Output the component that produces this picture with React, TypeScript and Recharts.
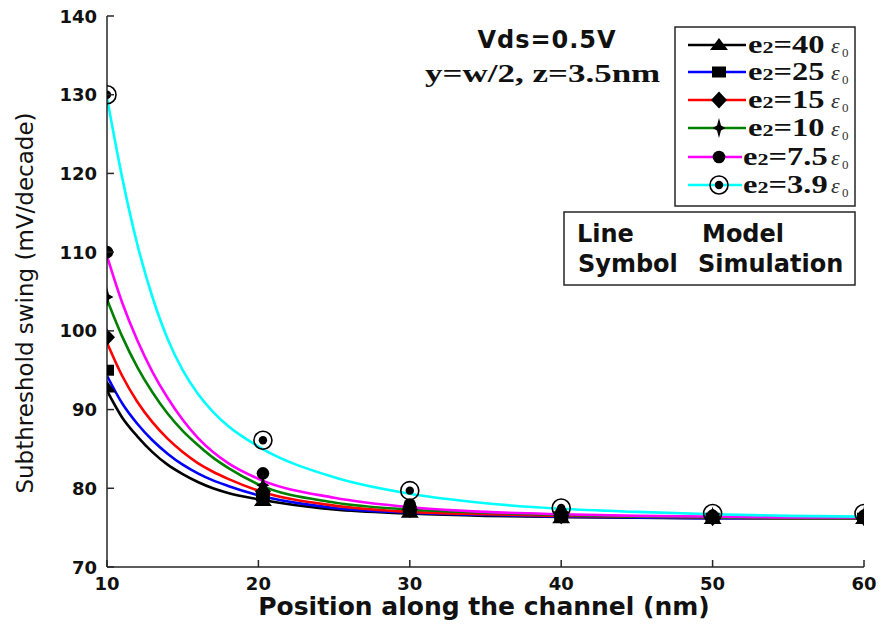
import React from 'react'
import { ComposedChart, Line, Scatter, XAxis, YAxis } from 'recharts'

// model curves (lines), sampled along the channel (nm)
const positions = [10, 11, 12, 13, 14, 15, 16, 17, 18, 20, 25, 30, 35, 40, 45, 50, 55, 60]
const model40 = [92.4, 89.0, 86.6, 84.6, 83.0, 81.8, 80.8, 80.0, 79.4, 78.6, 77.3, 76.8, 76.5, 76.35, 76.25, 76.2, 76.2, 76.2]
const model25 = [94.3, 90.8, 88.2, 86.1, 84.4, 83.0, 81.9, 81.0, 80.3, 79.1, 77.5, 76.9, 76.6, 76.4, 76.3, 76.2, 76.2, 76.2]
const model15 = [98.5, 94.3, 91.0, 88.4, 86.3, 84.6, 83.2, 82.1, 81.2, 79.7, 77.8, 77.0, 76.7, 76.5, 76.4, 76.3, 76.2, 76.2]
const model10 = [104.0, 99.3, 95.4, 92.2, 89.5, 87.3, 85.5, 83.9, 82.6, 80.5, 78.2, 77.3, 76.9, 76.6, 76.4, 76.3, 76.2, 76.2]
const model75 = [109.5, 103.6, 98.8, 94.8, 91.5, 88.7, 86.4, 84.6, 83.2, 81.2, 78.8, 77.6, 77.0, 76.7, 76.5, 76.4, 76.3, 76.3]
const model39 = [129.6, 119.5, 111.0, 104.3, 99.0, 95.0, 92.0, 89.7, 87.9, 85.3, 81.4, 79.3, 78.1, 77.4, 77.0, 76.7, 76.5, 76.4]

// simulation points (symbols)
const simPositions = [10, 20.3, 30, 40, 50, 60]
const sim40 = [92.8, 78.4, 76.9, 76.2, 76.1, 76.1]
const sim25 = [95.0, 79.0, 77.1, 76.4, 76.2, 76.2]
const sim15 = [99.2, 79.6, 77.3, 76.5, 76.3, 76.3]
const sim10 = [104.3, 80.4, 77.5, 76.7, 76.4, 76.4]
const sim75 = [110.0, 81.9, 77.9, 76.9, 76.5, 76.5]
const sim39 = [130.0, 86.1, 79.7, 77.5, 76.8, 76.8]

const xTicks = [10, 20, 30, 40, 50, 60]
const yTicks = [70, 80, 90, 100, 110, 120, 130, 140]

type Kind = 'triangle' | 'square' | 'diamond' | 'star' | 'dot' | 'ring'

const series: { key: string; label: string; color: string; model: number[]; sim: number[]; kind: Kind }[] = [
  { key: 'k40', label: '40', color: '#000000', model: model40, sim: sim40, kind: 'triangle' },
  { key: 'k25', label: '25', color: '#0000ff', model: model25, sim: sim25, kind: 'square' },
  { key: 'k15', label: '15', color: '#ff0000', model: model15, sim: sim15, kind: 'diamond' },
  { key: 'k10', label: '10', color: '#008000', model: model10, sim: sim10, kind: 'star' },
  { key: 'k75', label: '7.5', color: '#ff00ff', model: model75, sim: sim75, kind: 'dot' },
  { key: 'k39', label: '3.9', color: '#00ffff', model: model39, sim: sim39, kind: 'ring' },
]

const modelRows = positions.map((x, i) => {
  const row: Record<string, number> = { x }
  for (const s of series) row[s.key] = s.model[i]
  return row
})

const sans = "'DejaVu Sans', sans-serif"
const serif = "'Liberation Serif', 'Times New Roman', serif"
const ink = '#262626'

function Marker({ cx, cy, kind }: { cx: number; cy: number; kind: Kind }) {
  if (cx == null || cy == null) return null
  switch (kind) {
    case 'triangle':
      return <polygon points={`${cx - 9},${cy + 5} ${cx + 9},${cy + 5} ${cx},${cy - 7}`} fill="#000" />
    case 'square':
      return <rect x={cx - 7} y={cy - 5.5} width={14} height={11} fill="#000" />
    case 'diamond':
      return <polygon points={`${cx},${cy - 8.5} ${cx + 8},${cy} ${cx},${cy + 8.5} ${cx - 8},${cy}`} fill="#000" />
    case 'star':
      return (
        <polygon
          points={`${cx},${cy - 10} ${cx + 2},${cy - 2.5} ${cx + 6.5},${cy} ${cx + 2},${cy + 2.5} ${cx},${cy + 10} ${cx - 2},${cy + 2.5} ${cx - 6.5},${cy} ${cx - 2},${cy - 2.5}`}
          fill="#000"
        />
      )
    case 'dot':
      return <circle cx={cx} cy={cy} r={6.3} fill="#000" />
    case 'ring':
      return (
        <g>
          <circle cx={cx} cy={cy} r={9} fill="none" stroke="#000" strokeWidth={1.6} />
          <circle cx={cx} cy={cy} r={4.2} fill="#000" />
        </g>
      )
  }
  return null
}

const tickText = { fontFamily: sans, fontWeight: 'bold' as const, fontSize: 18, fill: '#111' }

function LeftTick({ x, y, payload }: any) {
  return (
    <g>
      <line x1={x} x2={x + 7} y1={y} y2={y} stroke={ink} strokeWidth={1.5} />
      <text x={x - 10} y={y + 6.5} textAnchor="end" {...tickText}>{payload.value}</text>
    </g>
  )
}

function BottomTick({ x, y, payload }: any) {
  return (
    <g>
      <line x1={x} x2={x} y1={y} y2={y - 7} stroke={ink} strokeWidth={1.5} />
      <text x={x} y={y + 23} textAnchor="middle" {...tickText}>{payload.value}</text>
    </g>
  )
}

function TopTick({ x, y }: any) {
  return <line x1={x} x2={x} y1={y} y2={y + 7} stroke={ink} strokeWidth={1.5} />
}

function RightTick({ x, y }: any) {
  return <line x1={x} x2={x - 7} y1={y} y2={y} stroke={ink} strokeWidth={1.5} />
}

// legend row centres in the top-right box
const rowY = [45, 72, 100, 128, 157, 185]

function Overlay() {
  return (
    <svg width={880} height={630} style={{ position: 'absolute', left: 0, top: 0, pointerEvents: 'none' }}>
      {/* axis titles */}
      <text
        x={484} y={615} textAnchor="middle"
        fontFamily={sans} fontWeight="bold" fontSize={25} fill="#111"
      >Position along the channel (nm)</text>
      <text
        transform="translate(33 303) rotate(-90)" textAnchor="middle"
        fontFamily={sans} fontSize={23} fill="#111"
      >Subthreshold swing (mV/decade)</text>

      {/* conditions */}
      <text x={547} y={48} textAnchor="middle" fontFamily={sans} fontWeight="bold" fontSize={24} letterSpacing={1} fill="#111">
        Vds=0.5V
      </text>
      <g transform="translate(425 82) scale(1.4 1)">
        <text fontFamily={serif} fontWeight="bold" fontSize={25} fill="#111">y=w/2, z=3.5nm</text>
      </g>

      {/* series legend */}
      <rect x={675} y={27} width={180} height={179} fill="#fff" stroke={ink} strokeWidth={1.5} />
      {series.map((s, i) => {
        const y = rowY[i]
        const wide = s.label.length > 2
        const tx = wide ? 743 : 748
        return (
          <g key={s.key}>
            <line x1={688} x2={wide ? 742 : 746} y1={y} y2={y} stroke={s.color} strokeWidth={2.5} />
            <Marker cx={719} cy={y} kind={s.kind} />
            <g transform={`translate(${tx} ${y + 8}) scale(1.3 1)`}>
              <text fontFamily={serif} fontWeight="bold" fontSize={25} fill="#111">
                e<tspan fontSize={17}>2</tspan>={s.label}
              </text>
            </g>
            <text x={831} y={y + 8} fontFamily={serif} fontStyle="italic" fontSize={22} fill="#333">ε</text>
            <text x={842} y={y + 12} fontFamily={serif} fontSize={13} fill="#333">0</text>
          </g>
        )
      })}

      {/* line / symbol key */}
      <rect x={564} y={212} width={291} height={73} fill="#fff" stroke={ink} strokeWidth={1.5} />
      <g fontFamily={sans} fontWeight="bold" fontSize={24} fill="#111">
        <text x={577} y={242}>Line</text>
        <text x={702} y={242}>Model</text>
        <text x={578} y={272}>Symbol</text>
        <text x={698} y={272}>Simulation</text>
      </g>
    </svg>
  )
}

export default function App() {
  return (
    <div style={{ position: 'fixed', left: 0, top: 0, width: 880, height: 630, background: '#fff' }}>
      <ComposedChart width={880} height={630} data={modelRows} margin={{ top: 16, right: 16, bottom: 0, left: 0 }}>
        <XAxis
          dataKey="x" type="number" domain={[10, 60]} ticks={xTicks} interval={0} allowDataOverflow
          height={63} tickSize={0} tickMargin={0} tickLine={false}
          axisLine={{ stroke: ink, strokeWidth: 1.5 }} tick={(p: any) => <BottomTick {...p} />}
        />
        <XAxis
          xAxisId="top" orientation="top" dataKey="x" type="number" domain={[10, 60]} ticks={xTicks} interval={0}
          allowDataOverflow height={0} tickSize={0} tickMargin={0} tickLine={false}
          axisLine={{ stroke: ink, strokeWidth: 1.5 }} tick={(p: any) => <TopTick {...p} />}
        />
        <YAxis
          type="number" domain={[70, 140]} ticks={yTicks} interval={0} allowDataOverflow
          width={107} tickSize={0} tickMargin={0} tickLine={false}
          axisLine={{ stroke: ink, strokeWidth: 1.5 }} tick={(p: any) => <LeftTick {...p} />}
        />
        <YAxis
          yAxisId="right" orientation="right" type="number" domain={[70, 140]} ticks={yTicks} interval={0}
          allowDataOverflow width={0} tickSize={0} tickMargin={0} tickLine={false}
          axisLine={{ stroke: ink, strokeWidth: 1.5 }} tick={(p: any) => <RightTick {...p} />}
        />
        {series.map((s) => (
          <Line
            key={s.key} type="monotone" dataKey={s.key} stroke={s.color} strokeWidth={2.6}
            dot={false} activeDot={false} isAnimationActive={false}
          />
        ))}
        {series.map((s) => (
          <Scatter
            key={'sim-' + s.key}
            data={simPositions.map((x, i) => ({ x, y: s.sim[i] }))}
            dataKey="y" isAnimationActive={false}
            shape={(p: any) => <Marker cx={p.cx} cy={p.cy} kind={s.kind} />}
          />
        ))}
      </ComposedChart>
      <Overlay />
    </div>
  )
}
